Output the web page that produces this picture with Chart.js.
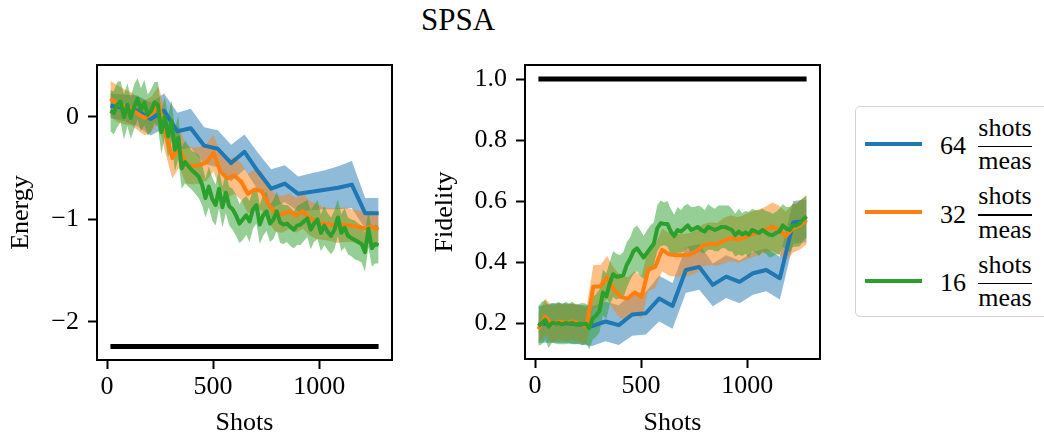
<!DOCTYPE html>
<html>
<head>
<meta charset="utf-8">
<script src="https://cdn.jsdelivr.net/npm/chart.js@4.4.1/dist/chart.umd.min.js"></script>
<style>
  html, body { margin:0; padding:0; background:#fff; }
  body { width:1044px; height:436px; position:relative; overflow:hidden; font-family:"Liberation Serif","Times New Roman",serif; color:#000; }
  #title { position:absolute; left:358px; width:200px; top:4px; text-align:center; font-size:31px; line-height:31px; }
  canvas { position:absolute; top:0; }
  #c1 { left:0; }
  #c2 { left:420px; }
  #legend { position:absolute; left:855px; top:106px; width:200px; height:209px; border:1.5px solid #d3d3d3; border-radius:5px; background:rgba(255,255,255,0.8); }
  .lg { position:absolute; font-size:26px; line-height:26px; white-space:nowrap; }
  .frac { width:54px; text-align:center; }
  .bar { position:absolute; height:1.3px; width:54px; background:#000; }
  .swatch { position:absolute; height:4px; width:57px; }
</style>
</head>
<body>
<div id="title">SPSA</div>
<canvas id="c1" width="420" height="436"></canvas>
<canvas id="c2" width="424" height="436"></canvas>
<div id="legendLayer"></div>
<script>
// ---------------- data ----------------
const seriesNames = ["64", "32", "16"];
const seriesColors = ["#1f77b4", "#ff7f0e", "#2ca02c"];

const xTicks = [0, 500, 1000];
const energyTicks = [-2, -1, 0];
const fidelityTicks = [0.2, 0.4, 0.6, 0.8, 1.0];

const exactEnergy = -2.24;
const exactFidelity = 1.0;
const exactX = [16, 1280];

const shots64 = [16,79,142,206,269,332,395,458,522,585,648,711,774,838,901,964,1027,1090,1154,1217,1280];
const shots32 = [16,48,81,113,146,178,210,243,275,308,340,372,405,437,470,502,534,567,599,632,664,696,729,761,794,826,858,891,923,956,988,1020,1053,1085,1118,1150,1182,1215,1247,1280];
const shots16 = [16,32,48,64,80,96,112,128,144,160,176,192,208,224,240,256,272,288,304,320,336,352,368,384,400,416,432,448,464,480,496,512,528,544,560,576,592,608,624,640,656,672,688,704,720,736,752,768,784,800,816,832,848,864,880,896,912,928,944,960,976,992,1008,1024,1040,1056,1072,1088,1104,1120,1136,1152,1168,1184,1200,1216,1232,1248,1264,1280];

const energy64 = [0.11,0.09,0.06,-0.02,0.06,-0.14,-0.11,-0.28,-0.31,-0.45,-0.34,-0.53,-0.70,-0.65,-0.75,-0.73,-0.71,-0.69,-0.66,-0.94,-0.94];
const energy64Spread = [0.12,0.13,0.15,0.16,0.17,0.18,0.19,0.18,0.18,0.18,0.17,0.18,0.19,0.18,0.17,0.18,0.19,0.21,0.23,0.15,0.15];

const energy32 = [0.18,0.13,0.10,0.08,0.03,-0.01,0.03,0.12,-0.15,-0.40,-0.30,-0.46,-0.48,-0.47,-0.44,-0.35,-0.53,-0.60,-0.57,-0.63,-0.75,-0.71,-0.72,-0.85,-0.94,-0.95,-0.92,-0.96,-0.92,-0.99,-1.02,-1.04,-1.05,-1.06,-1.05,-1.06,-1.07,-1.09,-1.07,-1.10];
const energy32Spread = [0.17,0.18,0.17,0.16,0.16,0.17,0.17,0.18,0.20,0.20,0.19,0.19,0.18,0.18,0.18,0.18,0.18,0.19,0.18,0.18,0.19,0.20,0.19,0.18,0.18,0.18,0.17,0.17,0.17,0.17,0.17,0.16,0.16,0.17,0.17,0.16,0.16,0.16,0.16,0.16];

const energy16 = [0.06,0.04,0.12,0.15,0.00,0.12,-0.01,0.10,0.18,0.07,
  0.14,0.02,0.06,0.14,0.12,-0.15,0.00,-0.19,-0.04,-0.32,
  -0.20,-0.50,-0.44,-0.48,-0.52,-0.55,-0.58,-0.66,-0.79,-0.68,
  -0.80,-0.86,-0.70,-0.88,-0.74,-0.87,-0.90,-0.96,-1.04,-1.00,
  -0.96,-1.02,-0.90,-0.86,-1.05,-0.96,-0.92,-1.04,-1.00,-0.92,
  -1.03,-1.05,-1.04,-1.07,-1.10,-1.06,-1.05,-1.02,-0.99,-1.10,
  -1.04,-1.00,-1.13,-1.06,-1.12,-1.16,-1.10,-0.98,-1.13,-1.08,
  -1.16,-1.18,-1.20,-1.22,-1.24,-1.32,-1.09,-1.28,-1.24,-1.25];
const energy16Spread = [0.20,0.21,0.22,0.20,0.22,0.21,0.20,0.22,0.20,0.21,
  0.22,0.20,0.21,0.20,0.22,0.21,0.20,0.21,0.20,0.21,
  0.21,0.20,0.21,0.20,0.19,0.20,0.21,0.20,0.19,0.20,
  0.21,0.20,0.19,0.20,0.20,0.19,0.20,0.20,0.19,0.20,
  0.19,0.20,0.19,0.18,0.19,0.20,0.19,0.18,0.19,0.19,
  0.20,0.19,0.18,0.19,0.18,0.19,0.20,0.19,0.18,0.19,
  0.18,0.19,0.18,0.19,0.18,0.18,0.19,0.18,0.18,0.19,
  0.18,0.18,0.19,0.18,0.18,0.19,0.18,0.18,0.19,0.18];

const fidelity64 = [0.195,0.20,0.20,0.195,0.19,0.205,0.193,0.228,0.232,0.28,0.256,0.374,0.384,0.325,0.352,0.335,0.363,0.374,0.347,0.53,0.535];
const fidelity64Spread = [0.06,0.065,0.065,0.065,0.065,0.065,0.065,0.07,0.07,0.075,0.075,0.075,0.075,0.07,0.07,0.07,0.07,0.07,0.07,0.07,0.07];

const fidelity32 = [0.18,0.22,0.195,0.205,0.20,0.205,0.198,0.19,0.32,0.32,0.35,0.31,0.285,0.28,0.30,0.285,0.375,0.385,0.44,0.425,0.422,0.422,0.425,0.435,0.455,0.46,0.458,0.47,0.478,0.473,0.48,0.49,0.497,0.505,0.515,0.505,0.485,0.51,0.52,0.538];
const fidelity32Spread = [0.05,0.06,0.06,0.06,0.06,0.06,0.06,0.06,0.07,0.07,0.07,0.07,0.07,0.07,0.07,0.07,0.07,0.07,0.07,0.07,0.07,0.07,0.07,0.07,0.07,0.07,0.07,0.075,0.075,0.075,0.075,0.075,0.075,0.075,0.08,0.08,0.08,0.08,0.08,0.08];

const fidelity16 = [0.19,0.20,0.21,0.188,0.20,0.198,0.20,0.195,0.20,0.198,
  0.20,0.195,0.198,0.196,0.198,0.183,0.215,0.225,0.24,0.30,
  0.287,0.33,0.36,0.352,0.353,0.357,0.39,0.41,0.435,0.445,
  0.43,0.415,0.43,0.445,0.46,0.51,0.527,0.525,0.525,0.50,
  0.485,0.505,0.50,0.51,0.52,0.505,0.51,0.515,0.505,0.50,
  0.515,0.51,0.505,0.51,0.515,0.515,0.51,0.505,0.488,0.50,
  0.49,0.497,0.49,0.505,0.50,0.495,0.505,0.497,0.49,0.488,
  0.495,0.50,0.52,0.51,0.505,0.52,0.52,0.527,0.54,0.55];
const fidelity16Spread = [0.065,0.07,0.065,0.07,0.065,0.065,0.07,0.065,0.07,0.065,
  0.07,0.065,0.065,0.07,0.065,0.07,0.07,0.07,0.07,0.075,
  0.075,0.07,0.075,0.075,0.07,0.075,0.075,0.07,0.075,0.075,
  0.075,0.07,0.075,0.075,0.07,0.075,0.075,0.07,0.075,0.075,
  0.07,0.075,0.07,0.075,0.07,0.075,0.07,0.07,0.075,0.07,
  0.075,0.07,0.07,0.075,0.07,0.07,0.075,0.07,0.07,0.075,
  0.07,0.07,0.075,0.07,0.07,0.075,0.07,0.07,0.075,0.07,
  0.07,0.075,0.07,0.07,0.075,0.07,0.07,0.075,0.07,0.07];

// ---------------- helpers ----------------
function pts(xs, ys) { return xs.map((x, i) => ({ x: x, y: ys[i] })); }
function rgba(hex, a) {
  const n = parseInt(hex.slice(1), 16);
  return `rgba(${(n >> 16) & 255},${(n >> 8) & 255},${n & 255},${a})`;
}
function band(xs, mean, spread, color, order) {
  return [
    { data: pts(xs, mean.map((m, i) => m - spread[i])), borderColor: 'rgba(0,0,0,0)', borderWidth: 0, pointRadius: 0, fill: false, order: order },
    { data: pts(xs, mean.map((m, i) => m + spread[i])), borderColor: 'rgba(0,0,0,0)', borderWidth: 0, pointRadius: 0, fill: '-1', backgroundColor: rgba(color, 0.5), order: order }
  ];
}
function line(xs, ys, color, width, order) {
  return { data: pts(xs, ys), borderColor: color, borderWidth: width, pointRadius: 0, fill: false, tension: 0, borderJoinStyle: 'round', order: order };
}

Chart.defaults.font = { family: "'Liberation Serif', 'Times New Roman', serif", size: 26, lineHeight: 1 };
Chart.defaults.color = '#000';

const framePlugin = {
  id: 'frame',
  afterDatasetsDraw(chart) {
    const { ctx, chartArea: a } = chart;
    ctx.save();
    ctx.strokeStyle = '#000';
    ctx.lineWidth = 2;
    ctx.strokeRect(a.left, a.top, a.right - a.left, a.bottom - a.top);
    ctx.restore();
  }
};

function makeChart(id, padding, xHeight, yMin, yMax, yTicks, yFmt, yTitle, yTitlePad, ds) {
  return new Chart(document.getElementById(id), {
    type: 'line',
    data: { datasets: ds },
    options: {
      responsive: false, animation: false, events: [],
      layout: { padding: padding },
      plugins: { legend: { display: false }, tooltip: { enabled: false } },
      scales: {
        x: {
          type: 'linear', min: -47.2, max: 1343.2,
          afterFit(s) { s.height = xHeight; },
          afterBuildTicks(s) { s.ticks = xTicks.map(v => ({ value: v })); },
          ticks: { padding: 5, autoSkip: false, maxRotation: 0, callback: v => String(v) },
          grid: { drawOnChartArea: false, drawTicks: true, tickLength: 9, tickWidth: 2, color: '#000' },
          border: { display: false },
          title: { display: true, text: 'Shots', padding: { top: 0, bottom: 0 }, font: { size: 26, lineHeight: 1 } }
        },
        y: {
          type: 'linear', min: yMin, max: yMax,
          afterFit(s) { s.width = 97; },
          afterBuildTicks(s) { s.ticks = yTicks.map(v => ({ value: v })); },
          ticks: { padding: 9, autoSkip: false, callback: yFmt },
          grid: { drawOnChartArea: false, drawTicks: true, tickLength: 9, tickWidth: 2, color: '#000' },
          border: { display: false },
          title: { display: true, text: yTitle, padding: { top: yTitlePad, bottom: 0 }, font: { size: 26, lineHeight: 1 } }
        }
      }
    },
    plugins: [framePlugin]
  });
}

const energyDs = [
  line(exactX, [exactEnergy, exactEnergy], '#000', 5, 0),
  line(shots16, energy16, seriesColors[2], 4, 1),
  line(shots32, energy32, seriesColors[1], 4, 2),
  line(shots64, energy64, seriesColors[0], 4, 3),
  ...band(shots16, energy16, energy16Spread, seriesColors[2], 8),
  ...band(shots32, energy32, energy32Spread, seriesColors[1], 9),
  ...band(shots64, energy64, energy64Spread, seriesColors[0], 10)
];
const fidelityDs = [
  line(exactX, [exactFidelity, exactFidelity], '#000', 5, 0),
  line(shots16, fidelity16, seriesColors[2], 4, 1),
  line(shots32, fidelity32, seriesColors[1], 4, 2),
  line(shots64, fidelity64, seriesColors[0], 4, 3),
  ...band(shots16, fidelity16, fidelity16Spread, seriesColors[2], 8),
  ...band(shots32, fidelity32, fidelity32Spread, seriesColors[1], 9),
  ...band(shots64, fidelity64, fidelity64Spread, seriesColors[0], 10)
];

makeChart('c1', { top: 65, left: 0, right: 28, bottom: 0 }, 76, -2.371, 0.507, energyTicks,
  v => (v < 0 ? '\u2212' + Math.abs(v) : String(v)), 'Energy', 8, energyDs);
makeChart('c2', { top: 65, left: 8, right: 24, bottom: 0 }, 77, 0.082, 1.046, fidelityTicks,
  v => Number(v).toFixed(1), 'Fidelity', 4, fidelityDs);

// ---------------- legend (HTML) ----------------
const layer = document.getElementById('legendLayer');
let html = '<div id="legend"></div>';
seriesNames.forEach((name, i) => {
  const dy = 68.3 * i;
  html += `<div class="swatch" style="left:865px;top:${142 + dy}px;background:${seriesColors[i]}"></div>`;
  html += `<div class="lg" style="left:940px;top:${133.2 + dy}px">${name}</div>`;
  html += `<div class="lg frac" style="left:978px;top:${114.9 + dy}px">shots</div>`;
  html += `<div class="bar" style="left:978px;top:${146 + dy}px"></div>`;
  html += `<div class="lg frac" style="left:978px;top:${148.2 + dy}px">meas</div>`;
});
layer.innerHTML = html;
</script>
</body>
</html>
